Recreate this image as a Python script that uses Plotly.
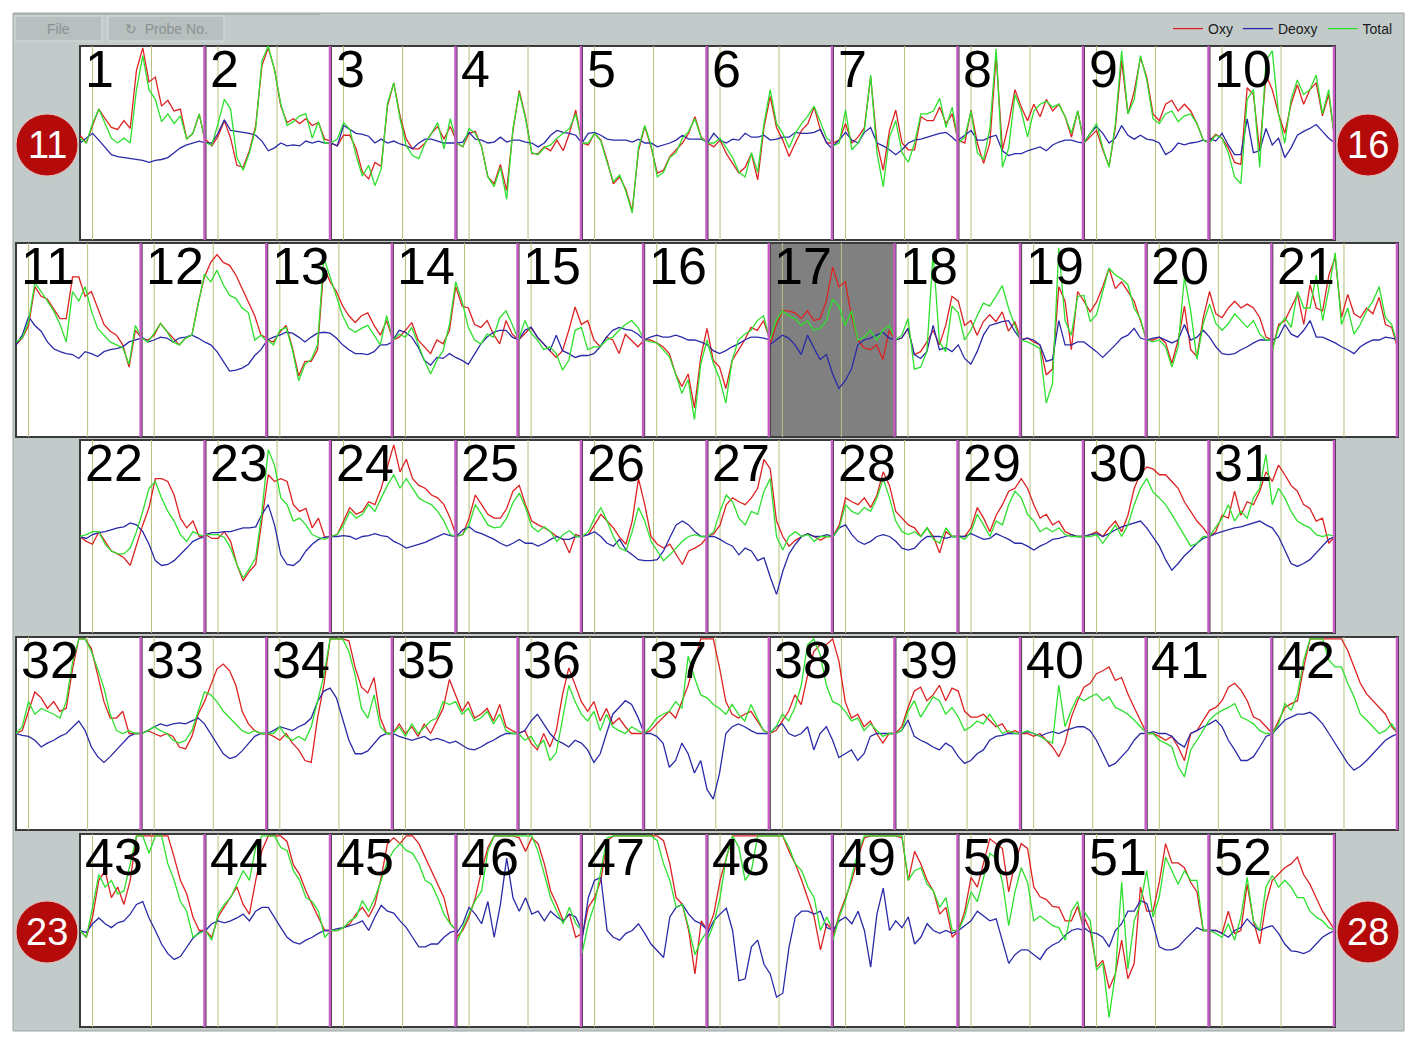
import plotly.graph_objects as go

# ---------------- data ----------------
time_s = [0, 1, 2, 3, 4, 5, 6, 7, 8, 9, 10, 11, 12, 13, 14, 15, 16, 17, 18, 19, 20]
task_on = 2.0
task_off = 11.4
series_names = ["Oxy", "Deoxy", "Total"]
circle_labels = ["11", "16", "23", "28"]

oxy_1 = [0.08, 0.0, 0.18, 0.35, 0.25, 0.16, 0.14, 0.23, 0.15, 0.75, 0.98, 0.63, 0.68, 0.38, 0.44, 0.33, 0.35, 0.04, 0.1, 0.3, 0.0]
deoxy_1 = [0.0, 0.05, 0.1, 0.03, -0.05, -0.12, -0.14, -0.15, -0.16, -0.17, -0.18, -0.2, -0.18, -0.17, -0.15, -0.1, -0.05, -0.02, 0.0, 0.02, 0.0]
total_1 = [0.05, 0.0, 0.2, 0.35, 0.2, 0.05, 0.0, 0.05, 0.0, 0.55, 0.9, 0.55, 0.45, 0.22, 0.3, 0.2, 0.28, 0.04, 0.1, 0.3, 0.0]
oxy_2 = [0.04, -0.03, 0.07, 0.23, 0.05, -0.23, -0.25, -0.08, 0.18, 0.8, 0.98, 0.76, 0.38, 0.21, 0.25, 0.2, 0.25, 0.18, 0.21, 0.04, 0.02]
deoxy_2 = [0.0, 0.0, 0.1, 0.24, 0.13, 0.12, 0.11, 0.1, 0.08, 0.02, -0.08, -0.05, 0.0, -0.03, -0.02, -0.03, 0.02, 0.0, 0.02, 0.0, 0.0]
total_2 = [0.0, -0.02, 0.2, 0.45, 0.35, -0.15, -0.28, -0.1, 0.15, 0.85, 1.0, 0.75, 0.4, 0.18, 0.22, 0.28, 0.3, 0.05, 0.22, 0.0, 0.0]
oxy_3 = [0.0, -0.03, 0.08, 0.08, -0.06, -0.3, -0.37, -0.2, -0.24, 0.38, 0.62, 0.28, 0.04, -0.06, -0.06, 0.0, 0.1, 0.17, 0.04, 0.17, 0.02]
deoxy_3 = [0.0, -0.03, 0.18, 0.14, 0.1, 0.09, 0.07, 0.0, 0.04, 0.0, 0.02, -0.01, -0.03, -0.06, 0.0, 0.04, 0.04, 0.02, 0.0, 0.0, 0.0]
total_3 = [0.0, 0.04, 0.21, 0.14, -0.13, -0.34, -0.23, -0.44, -0.27, 0.41, 0.62, 0.25, -0.03, -0.13, -0.16, 0.0, 0.1, 0.21, -0.06, 0.25, 0.02]
oxy_4 = [0.0, -0.04, 0.1, 0.12, -0.04, -0.35, -0.42, -0.22, -0.49, 0.13, 0.54, 0.27, -0.11, -0.11, -0.04, -0.08, 0.03, -0.08, 0.1, 0.34, 0.0]
deoxy_4 = [0.0, 0.01, 0.11, 0.04, 0.03, 0.0, 0.01, 0.06, 0.01, 0.03, 0.03, 0.01, 0.0, -0.04, 0.0, 0.08, 0.13, 0.11, 0.1, 0.08, 0.0]
total_4 = [0.0, -0.04, 0.15, 0.1, -0.04, -0.35, -0.45, -0.25, -0.58, 0.15, 0.52, 0.25, -0.1, -0.12, -0.05, -0.02, 0.05, 0.1, 0.15, 0.3, 0.0]
oxy_5 = [0.0, -0.02, 0.1, 0.03, -0.18, -0.42, -0.35, -0.48, -0.7, -0.08, 0.17, -0.04, -0.31, -0.28, -0.14, -0.07, 0.0, 0.1, 0.27, 0.06, 0.0]
deoxy_5 = [0.0, 0.1, 0.11, 0.08, 0.04, 0.03, 0.03, 0.03, 0.01, 0.04, 0.0, 0.0, -0.04, -0.02, 0.0, 0.03, 0.08, 0.04, 0.04, 0.04, 0.01]
total_5 = [0.0, 0.0, 0.1, 0.02, -0.2, -0.4, -0.33, -0.5, -0.72, -0.05, 0.18, -0.02, -0.35, -0.3, -0.15, -0.1, 0.05, 0.12, 0.25, 0.05, 0.0]
oxy_6 = [0.0, -0.04, 0.03, -0.11, -0.21, -0.31, -0.25, -0.11, -0.38, 0.16, 0.48, 0.16, 0.03, -0.14, 0.0, 0.13, 0.2, 0.37, 0.13, 0.0, 0.0]
deoxy_6 = [0.0, 0.1, 0.03, 0.0, 0.04, 0.03, 0.1, 0.06, 0.06, 0.08, 0.03, 0.04, 0.06, 0.06, 0.11, 0.1, 0.1, 0.11, 0.14, 0.0, -0.07]
total_6 = [0.0, 0.0, 0.05, -0.05, -0.15, -0.3, -0.35, -0.1, -0.3, 0.2, 0.55, 0.2, 0.1, -0.05, 0.1, 0.2, 0.28, 0.38, 0.22, 0.05, 0.0]
oxy_7 = [0.0, 0.03, 0.2, 0.0, 0.06, 0.16, 0.68, 0.0, -0.28, 0.13, 0.34, 0.0, -0.07, -0.07, 0.27, 0.23, 0.23, 0.37, 0.2, 0.3, 0.0]
deoxy_7 = [-0.03, 0.03, 0.11, 0.03, 0.0, 0.11, 0.16, 0.0, -0.03, -0.07, -0.12, -0.07, 0.0, 0.03, 0.04, 0.06, 0.08, 0.1, 0.11, 0.06, 0.0]
total_7 = [-0.03, 0.0, 0.34, -0.07, 0.0, 0.13, 0.7, -0.1, -0.45, 0.06, 0.23, -0.1, -0.2, 0.0, 0.3, 0.3, 0.33, 0.46, 0.16, 0.37, 0.0]
oxy_8 = [0.03, 0.0, 0.34, 0.0, -0.21, 0.0, 0.9, -0.07, 0.2, 0.55, 0.37, 0.23, 0.4, 0.27, 0.45, 0.33, 0.4, 0.27, 0.06, 0.33, 0.0]
deoxy_8 = [0.03, 0.08, 0.13, 0.03, 0.03, 0.06, 0.08, -0.08, -0.13, -0.11, -0.11, -0.08, -0.06, -0.04, -0.08, -0.02, 0.01, 0.03, 0.03, 0.01, 0.0]
total_8 = [0.0, 0.06, 0.33, -0.1, -0.17, 0.15, 0.97, -0.25, -0.05, 0.5, 0.33, 0.06, 0.33, 0.4, 0.43, 0.37, 0.4, 0.27, 0.1, 0.33, 0.0]
oxy_9 = [0.0, 0.06, 0.13, -0.07, -0.24, 0.16, 0.85, 0.3, 0.53, 0.88, 0.68, 0.3, 0.23, 0.4, 0.44, 0.33, 0.4, 0.33, 0.2, 0.03, 0.0]
deoxy_9 = [0.0, 0.1, 0.17, 0.1, 0.0, 0.05, 0.18, 0.08, 0.04, 0.08, 0.04, 0.03, 0.0, -0.12, -0.08, 0.0, -0.02, 0.0, 0.01, 0.03, 0.01]
total_9 = [0.0, 0.1, 0.2, -0.05, -0.25, 0.2, 0.95, 0.3, 0.45, 0.9, 0.65, 0.25, 0.2, 0.3, 0.33, 0.22, 0.28, 0.3, 0.2, 0.03, 0.0]
oxy_10 = [0.02, 0.09, 0.05, -0.05, -0.2, -0.22, 0.57, 0.5, -0.08, 0.7, 0.55, 0.3, 0.1, 0.4, 0.6, 0.4, 0.55, 0.62, 0.28, 0.5, 0.02]
deoxy_10 = [0.05, 0.02, 0.1, -0.02, -0.12, -0.12, 0.25, -0.1, -0.08, 0.15, -0.02, 0.05, -0.15, -0.05, 0.08, 0.12, 0.15, 0.19, 0.12, 0.05, 0.0]
total_10 = [0.0, 0.08, 0.05, -0.1, -0.35, -0.42, 0.45, 0.55, -0.25, 0.85, 0.95, 0.3, 0.0, 0.45, 0.65, 0.5, 0.55, 0.7, 0.3, 0.55, 0.0]
oxy_11 = [-0.05, 0.02, 0.15, 0.55, 0.45, 0.42, 0.32, 0.22, 0.22, 0.65, 0.65, 0.45, 0.5, 0.32, 0.16, 0.09, 0.05, -0.05, -0.28, 0.1, 0.02]
deoxy_11 = [-0.05, 0.05, 0.24, 0.15, 0.09, -0.02, -0.09, -0.12, -0.14, -0.15, -0.19, -0.12, -0.14, -0.17, -0.12, -0.1, -0.09, -0.07, -0.02, 0.0, 0.02]
total_11 = [-0.02, 0.02, 0.19, 0.59, 0.5, 0.4, 0.3, 0.16, -0.02, 0.5, 0.4, 0.55, 0.3, 0.12, 0.05, -0.02, -0.05, -0.08, -0.25, 0.15, 0.02]
oxy_12 = [0.02, 0.0, 0.05, 0.17, 0.09, 0.02, -0.05, 0.02, 0.05, 0.38, 0.65, 0.8, 0.88, 0.8, 0.77, 0.67, 0.53, 0.38, 0.25, 0.05, 0.02]
deoxy_12 = [0.03, -0.02, 0.0, 0.03, 0.02, -0.02, 0.02, 0.03, 0.05, 0.02, -0.02, -0.05, -0.12, -0.22, -0.32, -0.31, -0.29, -0.25, -0.16, -0.1, 0.0]
total_12 = [0.02, -0.02, 0.07, 0.17, 0.09, -0.02, -0.05, 0.02, 0.05, 0.38, 0.68, 0.6, 0.72, 0.57, 0.46, 0.43, 0.33, 0.28, 0.0, 0.05, -0.02]
oxy_13 = [0.0, -0.02, 0.08, 0.15, -0.08, -0.37, -0.22, -0.22, -0.1, 0.75, 0.6, 0.5, 0.35, 0.25, 0.18, 0.25, 0.28, 0.15, 0.05, 0.2, 0.0]
deoxy_13 = [0.0, 0.03, 0.05, 0.08, 0.07, 0.03, -0.02, 0.03, 0.07, 0.08, 0.07, 0.02, -0.05, -0.1, -0.14, -0.14, -0.15, -0.12, -0.05, -0.05, -0.02]
total_13 = [0.0, -0.05, 0.1, 0.13, -0.1, -0.42, -0.25, -0.2, -0.05, 0.85, 0.65, 0.45, 0.25, 0.12, 0.08, 0.12, 0.15, 0.05, -0.05, 0.25, 0.0]
oxy_14 = [0.0, 0.03, 0.1, 0.18, 0.0, -0.07, -0.14, 0.0, -0.04, 0.1, 0.55, 0.35, 0.33, 0.16, 0.13, 0.2, 0.06, -0.04, 0.2, 0.06, 0.0]
deoxy_14 = [0.0, 0.1, 0.08, 0.03, -0.07, -0.21, -0.26, -0.18, -0.19, -0.14, -0.18, -0.21, -0.25, -0.14, -0.04, 0.03, 0.08, 0.1, 0.1, 0.03, 0.0]
total_14 = [0.0, 0.06, 0.03, 0.13, -0.04, -0.21, -0.35, -0.21, -0.11, 0.16, 0.6, 0.4, 0.13, 0.0, -0.04, 0.06, 0.03, 0.23, 0.3, 0.16, 0.0]
oxy_15 = [0.0, 0.07, 0.13, 0.03, -0.04, -0.11, -0.18, -0.11, 0.1, 0.34, 0.16, 0.2, 0.0, -0.07, 0.03, 0.0, -0.14, 0.06, 0.0, -0.07, 0.0]
deoxy_15 = [0.0, 0.1, 0.13, 0.03, -0.04, -0.11, 0.05, -0.11, -0.14, -0.18, -0.16, -0.16, -0.14, -0.07, 0.03, 0.1, 0.13, 0.11, 0.1, 0.06, 0.0]
total_15 = [0.0, 0.2, 0.07, 0.0, -0.1, -0.07, -0.14, -0.31, -0.21, 0.1, 0.13, -0.1, -0.07, -0.07, 0.0, 0.03, 0.1, 0.16, 0.2, 0.13, 0.0]
oxy_16 = [0.0, 0.0, -0.03, -0.07, -0.14, -0.35, -0.48, -0.35, -0.7, -0.18, 0.12, -0.21, -0.28, -0.5, -0.21, -0.11, 0.0, 0.13, 0.1, 0.2, 0.0]
deoxy_16 = [0.0, 0.03, 0.05, 0.03, 0.03, 0.05, 0.03, 0.0, 0.0, -0.02, -0.05, -0.11, -0.14, -0.11, -0.07, -0.04, 0.0, 0.03, 0.03, 0.02, 0.0]
total_16 = [0.0, -0.02, -0.03, -0.1, -0.17, -0.35, -0.55, -0.41, -0.82, -0.25, 0.0, -0.24, -0.4, -0.65, -0.21, 0.0, 0.06, 0.1, 0.2, 0.25, 0.0]
oxy_17 = [-0.05, 0.15, 0.3, 0.3, 0.28, 0.22, 0.3, 0.2, 0.22, 0.4, 0.75, 0.55, 0.6, 0.25, 0.0, -0.08, -0.1, -0.05, -0.2, 0.1, 0.0]
deoxy_17 = [-0.05, 0.0, 0.05, 0.02, -0.05, -0.15, 0.05, -0.08, -0.2, -0.15, -0.35, -0.5, -0.42, -0.3, -0.05, 0.0, 0.02, 0.05, 0.08, 0.02, 0.0]
total_17 = [0.0, 0.2, 0.3, 0.25, 0.22, 0.15, 0.2, 0.1, 0.12, 0.2, 0.42, 0.35, 0.15, 0.3, 0.0, 0.03, 0.1, 0.0, 0.1, 0.15, 0.0]
oxy_18 = [0.0, 0.02, 0.12, -0.15, -0.12, -0.02, 0.1, -0.05, 0.15, 0.45, 0.4, 0.15, 0.2, 0.05, 0.19, 0.26, 0.19, 0.29, 0.09, 0.19, 0.0]
deoxy_18 = [0.0, 0.02, 0.12, -0.15, -0.19, -0.12, 0.15, -0.1, -0.08, -0.12, -0.05, -0.19, -0.25, -0.12, 0.05, 0.15, 0.17, 0.19, 0.2, 0.09, 0.0]
total_18 = [0.0, 0.05, 0.22, -0.3, -0.28, -0.12, 0.9, -0.02, -0.12, 0.35, 0.28, 0.0, 0.1, 0.25, 0.38, 0.35, 0.45, 0.56, 0.33, 0.15, -0.02]
oxy_19 = [0.0, 0.02, -0.02, -0.05, -0.36, -0.3, 0.55, 0.4, -0.1, 0.5, 0.4, 0.29, 0.39, 0.55, 0.74, 0.53, 0.6, 0.5, 0.4, 0.2, 0.0]
deoxy_19 = [0.0, 0.02, 0.0, -0.05, -0.22, -0.2, 0.2, -0.05, -0.05, -0.02, -0.02, -0.07, -0.12, -0.18, -0.12, -0.05, 0.02, 0.05, 0.12, 0.02, 0.0]
total_19 = [0.0, -0.02, -0.05, -0.09, -0.65, -0.45, 0.95, 0.2, 0.05, 0.45, 0.46, 0.19, 0.26, 0.5, 0.74, 0.67, 0.63, 0.57, 0.33, 0.22, -0.02]
oxy_20 = [0.0, 0.0, 0.03, -0.03, -0.24, 0.0, 0.35, -0.1, -0.17, 0.23, 0.5, 0.27, 0.23, 0.33, 0.4, 0.33, 0.37, 0.33, 0.23, 0.03, 0.0]
deoxy_20 = [0.0, 0.02, 0.03, 0.0, -0.03, 0.0, 0.16, 0.0, 0.03, 0.1, 0.03, -0.07, -0.14, -0.15, -0.14, -0.1, -0.07, -0.03, 0.0, 0.0, 0.0]
total_20 = [0.0, -0.02, 0.0, -0.07, -0.28, -0.07, 0.65, 0.3, -0.2, 0.17, 0.37, 0.17, 0.1, 0.17, 0.27, 0.2, 0.13, 0.2, 0.06, 0.0, 0.0]
oxy_21 = [-0.1, 0.16, 0.2, 0.33, 0.47, 0.16, 0.57, 0.33, 0.3, 0.67, 0.85, 0.23, 0.47, 0.27, 0.23, 0.33, 0.27, 0.44, 0.16, 0.13, -0.1]
deoxy_21 = [0.0, 0.03, 0.16, 0.06, 0.03, 0.1, 0.2, 0.03, 0.03, 0.0, -0.03, -0.07, -0.1, -0.14, -0.07, -0.03, 0.0, 0.0, 0.03, 0.02, 0.0]
total_21 = [-0.1, 0.13, 0.23, 0.13, 0.5, 0.33, 0.33, 0.67, 0.2, 0.53, 0.9, 0.16, 0.33, 0.06, 0.16, 0.3, 0.4, 0.55, 0.23, 0.16, -0.07]
oxy_22 = [0.0, -0.05, -0.08, 0.05, -0.05, -0.15, -0.18, -0.22, -0.3, -0.08, 0.12, 0.3, 0.6, 0.6, 0.57, 0.43, 0.19, 0.09, 0.16, 0.0, 0.0]
deoxy_22 = [0.0, -0.02, 0.02, 0.04, 0.05, 0.07, 0.09, 0.1, 0.14, 0.12, 0.05, -0.08, -0.25, -0.3, -0.29, -0.25, -0.19, -0.12, -0.05, -0.02, 0.0]
total_22 = [0.0, 0.02, 0.05, 0.05, -0.08, -0.15, -0.18, -0.18, -0.12, 0.05, 0.26, 0.5, 0.57, 0.4, 0.26, 0.16, 0.02, -0.05, 0.05, 0.02, 0.0]
oxy_23 = [0.02, -0.02, -0.02, 0.05, -0.05, -0.29, -0.46, -0.36, -0.29, 0.16, 0.64, 0.57, 0.6, 0.57, 0.33, 0.26, 0.29, 0.09, 0.19, -0.01, 0.0]
deoxy_23 = [0.02, 0.04, 0.04, 0.05, 0.05, 0.07, 0.09, 0.09, 0.1, 0.23, 0.33, 0.12, -0.19, -0.29, -0.3, -0.25, -0.15, -0.08, -0.03, -0.01, 0.0]
total_23 = [0.02, 0.02, 0.02, -0.01, -0.12, -0.29, -0.43, -0.33, -0.22, 0.26, 0.9, 0.74, 0.4, 0.33, 0.16, 0.19, 0.12, 0.02, -0.01, -0.03, 0.0]
oxy_24 = [0.0, 0.02, 0.16, 0.3, 0.23, 0.26, 0.36, 0.33, 0.5, 0.74, 0.95, 0.67, 0.8, 0.6, 0.53, 0.5, 0.43, 0.4, 0.33, 0.19, 0.0]
deoxy_24 = [0.0, 0.0, 0.01, 0.0, -0.03, 0.0, 0.01, 0.03, 0.01, 0.0, -0.05, -0.08, -0.12, -0.1, -0.08, -0.06, -0.03, 0.0, 0.03, 0.01, 0.0]
total_24 = [0.0, 0.02, 0.12, 0.26, 0.19, 0.23, 0.33, 0.26, 0.4, 0.53, 0.64, 0.5, 0.6, 0.5, 0.4, 0.36, 0.33, 0.26, 0.16, 0.02, 0.0]
oxy_25 = [0.0, 0.02, 0.19, 0.43, 0.33, 0.23, 0.19, 0.19, 0.29, 0.47, 0.53, 0.33, 0.16, 0.12, 0.09, 0.05, 0.0, -0.03, -0.17, 0.02, 0.0]
deoxy_25 = [0.0, 0.07, 0.1, 0.05, 0.03, 0.0, -0.03, -0.07, -0.1, -0.07, -0.03, -0.07, -0.07, -0.1, -0.07, -0.03, 0.0, -0.03, -0.03, 0.0, 0.0]
total_25 = [0.0, 0.02, 0.12, 0.33, 0.23, 0.12, 0.09, 0.1, 0.19, 0.35, 0.45, 0.3, 0.1, 0.05, 0.1, 0.05, -0.05, 0.02, 0.06, 0.0, 0.0]
oxy_26 = [0.0, 0.02, 0.12, 0.23, 0.16, 0.09, -0.01, -0.08, 0.16, 0.6, 0.33, 0.0, -0.08, -0.12, -0.08, -0.19, -0.29, -0.15, -0.12, -0.08, 0.0]
deoxy_26 = [0.0, 0.02, 0.05, 0.0, -0.07, -0.1, -0.03, -0.14, -0.19, -0.24, -0.25, -0.25, -0.24, -0.15, -0.01, 0.12, 0.16, 0.12, 0.05, 0.0, 0.0]
total_26 = [0.0, 0.05, 0.19, 0.3, 0.16, 0.0, -0.12, -0.15, 0.05, 0.3, 0.16, -0.05, -0.15, -0.25, -0.19, -0.12, -0.05, 0.0, 0.02, 0.0, 0.0]
oxy_27 = [0.0, 0.03, 0.12, 0.33, 0.4, 0.36, 0.33, 0.4, 0.5, 0.8, 0.7, 0.16, 0.0, -0.1, -0.04, 0.0, 0.03, 0.0, -0.04, 0.0, 0.0]
deoxy_27 = [0.0, 0.0, -0.03, -0.07, -0.1, -0.19, -0.12, -0.15, -0.25, -0.22, -0.42, -0.6, -0.36, -0.18, -0.08, 0.0, 0.03, 0.0, 0.0, 0.02, 0.0]
total_27 = [0.0, 0.05, 0.26, 0.43, 0.36, 0.19, 0.12, 0.26, 0.23, 0.47, 0.6, 0.0, -0.14, 0.0, 0.05, 0.0, 0.02, -0.05, 0.0, 0.0, 0.0]
oxy_28 = [0.0, 0.12, 0.4, 0.36, 0.33, 0.4, 0.3, 0.43, 0.67, 0.53, 0.26, 0.19, 0.12, 0.09, 0.0, 0.09, 0.0, -0.17, 0.05, 0.0, 0.0]
deoxy_28 = [0.0, 0.09, 0.12, 0.02, -0.05, -0.08, -0.05, 0.0, 0.02, 0.0, -0.05, -0.12, -0.14, -0.12, -0.05, 0.0, 0.0, 0.0, -0.02, 0.0, 0.0]
total_28 = [0.0, 0.09, 0.33, 0.26, 0.23, 0.3, 0.26, 0.4, 0.6, 0.4, 0.16, 0.05, 0.02, 0.05, 0.0, 0.09, -0.03, -0.07, 0.09, 0.0, 0.0]
oxy_29 = [0.0, 0.0, 0.09, 0.3, 0.19, 0.05, 0.22, 0.33, 0.47, 0.5, 0.6, 0.5, 0.33, 0.19, 0.23, 0.12, 0.16, 0.05, 0.02, 0.0, 0.0]
deoxy_29 = [0.0, 0.0, 0.03, 0.0, -0.03, -0.02, 0.03, 0.0, -0.03, -0.07, -0.07, -0.1, -0.14, -0.1, -0.07, -0.03, -0.02, 0.0, 0.02, 0.0, 0.0]
total_29 = [0.0, -0.03, 0.05, 0.23, 0.12, 0.0, 0.16, 0.12, 0.33, 0.47, 0.4, 0.23, 0.16, 0.05, 0.09, 0.05, 0.09, 0.02, 0.0, 0.0, 0.0]
oxy_30 = [0.0, 0.02, 0.05, 0.0, 0.09, 0.16, 0.05, 0.22, 0.5, 0.65, 0.72, 0.7, 0.64, 0.64, 0.57, 0.5, 0.36, 0.26, 0.16, 0.09, 0.0]
deoxy_30 = [0.0, 0.02, 0.03, 0.0, 0.03, 0.07, 0.1, 0.12, 0.14, 0.16, 0.09, 0.0, -0.1, -0.24, -0.35, -0.28, -0.2, -0.14, -0.07, -0.02, 0.0]
total_30 = [0.0, 0.0, 0.02, -0.07, 0.02, 0.12, 0.0, 0.12, 0.33, 0.5, 0.6, 0.46, 0.4, 0.33, 0.23, 0.12, 0.0, -0.1, -0.07, 0.0, 0.0]
oxy_31 = [0.0, 0.05, 0.22, 0.19, 0.47, 0.22, 0.36, 0.33, 0.47, 0.67, 0.57, 0.74, 0.64, 0.53, 0.47, 0.33, 0.29, 0.16, 0.19, -0.07, 0.0]
deoxy_31 = [0.0, 0.03, 0.05, 0.07, 0.09, 0.1, 0.12, 0.14, 0.16, 0.12, 0.09, 0.0, -0.14, -0.28, -0.31, -0.28, -0.24, -0.17, -0.1, -0.03, 0.0]
total_31 = [0.0, 0.09, 0.19, 0.33, 0.16, 0.26, 0.19, 0.4, 0.5, 0.85, 0.33, 0.5, 0.4, 0.26, 0.16, 0.12, 0.09, 0.02, 0.0, 0.02, 0.0]
oxy_32 = [0.0, 0.03, 0.23, 0.43, 0.37, 0.26, 0.33, 0.23, 0.26, 0.67, 0.98, 0.98, 0.88, 0.6, 0.33, 0.16, 0.16, 0.23, 0.0, 0.0, 0.0]
deoxy_32 = [0.0, -0.02, -0.03, -0.07, -0.14, -0.1, -0.07, -0.03, 0.0, 0.07, 0.13, 0.03, -0.14, -0.24, -0.3, -0.24, -0.17, -0.1, -0.03, 0.0, 0.0]
total_32 = [0.0, 0.07, 0.33, 0.2, 0.26, 0.23, 0.2, 0.16, 0.33, 0.74, 0.98, 0.98, 0.85, 0.67, 0.47, 0.2, 0.03, 0.0, 0.03, 0.0, 0.0]
oxy_33 = [0.0, 0.03, 0.0, -0.03, 0.0, -0.03, -0.14, -0.16, -0.03, 0.2, 0.33, 0.5, 0.67, 0.72, 0.65, 0.5, 0.23, 0.1, 0.03, 0.0, 0.0]
deoxy_33 = [0.0, 0.03, 0.07, 0.1, 0.08, 0.1, 0.11, 0.1, 0.13, 0.16, 0.1, 0.0, -0.1, -0.21, -0.26, -0.24, -0.18, -0.1, -0.03, 0.0, 0.0]
total_33 = [0.0, 0.03, 0.07, 0.03, 0.0, -0.07, -0.1, -0.07, 0.03, 0.23, 0.43, 0.4, 0.33, 0.23, 0.16, 0.1, 0.03, 0.0, 0.03, 0.0, 0.0]
oxy_34 = [0.0, -0.03, -0.07, 0.0, -0.1, -0.17, -0.28, -0.3, 0.16, 0.5, 0.98, 0.98, 0.98, 0.96, 0.68, 0.48, 0.42, 0.58, 0.16, 0.0, 0.0]
deoxy_34 = [0.0, 0.03, 0.07, 0.05, 0.03, 0.07, 0.1, 0.16, 0.33, 0.44, 0.47, 0.37, 0.16, -0.07, -0.21, -0.21, -0.18, -0.1, -0.03, 0.0, 0.0]
total_34 = [0.0, 0.0, 0.07, -0.03, -0.07, -0.03, -0.07, 0.07, 0.33, 0.6, 0.98, 0.98, 0.98, 0.85, 0.6, 0.26, 0.16, 0.4, 0.07, 0.0, 0.0]
oxy_35 = [0.0, 0.1, 0.0, 0.07, -0.03, 0.1, 0.0, 0.13, 0.26, 0.56, 0.4, 0.23, 0.33, 0.16, 0.2, 0.26, 0.13, 0.3, 0.07, 0.03, 0.0]
deoxy_35 = [0.0, -0.03, -0.05, -0.07, -0.05, -0.03, -0.07, -0.05, -0.07, -0.1, -0.08, -0.12, -0.16, -0.17, -0.14, -0.1, -0.07, -0.03, 0.0, 0.0, 0.0]
total_35 = [0.0, 0.07, -0.03, 0.1, 0.0, 0.07, 0.13, 0.16, 0.33, 0.3, 0.33, 0.2, 0.26, 0.13, 0.16, 0.23, 0.1, 0.2, 0.03, 0.0, 0.0]
oxy_36 = [0.0, 0.03, -0.1, -0.17, 0.0, -0.14, 0.03, 0.4, 0.68, 0.5, 0.33, 0.23, 0.33, 0.13, 0.26, 0.1, 0.16, 0.07, 0.0, 0.0, 0.0]
deoxy_36 = [0.0, 0.03, 0.13, 0.2, 0.1, 0.0, -0.07, -0.1, -0.14, -0.07, -0.1, -0.17, -0.3, -0.21, 0.0, 0.2, 0.27, 0.34, 0.3, 0.17, 0.0]
total_36 = [0.0, -0.07, -0.03, -0.14, -0.07, -0.28, -0.2, 0.16, 0.5, 0.33, 0.2, 0.13, 0.23, 0.03, 0.2, 0.07, 0.03, 0.0, 0.07, 0.03, 0.0]
oxy_37 = [0.0, 0.03, 0.1, 0.16, 0.23, 0.16, 0.33, 0.5, 0.75, 0.98, 0.98, 0.98, 0.68, 0.33, 0.2, 0.16, 0.2, 0.23, 0.13, 0.03, 0.0]
deoxy_37 = [0.0, 0.0, -0.03, -0.1, -0.35, -0.28, -0.1, -0.21, -0.41, -0.28, -0.58, -0.68, -0.41, 0.0, 0.07, 0.1, 0.07, 0.03, 0.0, 0.0, 0.0]
total_37 = [0.0, 0.07, 0.16, 0.2, 0.23, 0.33, 0.26, 0.8, 0.58, 0.4, 0.37, 0.3, 0.26, 0.2, 0.3, 0.2, 0.13, 0.3, 0.16, 0.03, 0.0]
oxy_38 = [0.0, 0.03, 0.13, 0.23, 0.4, 0.3, 0.6, 0.85, 0.92, 0.92, 0.98, 0.75, 0.33, 0.16, 0.2, 0.07, 0.13, 0.0, -0.1, 0.0, 0.0]
deoxy_38 = [0.0, 0.07, 0.1, 0.0, -0.03, 0.0, 0.07, -0.17, 0.0, 0.07, -0.07, -0.25, -0.21, -0.17, -0.28, -0.21, -0.03, 0.0, 0.0, 0.0, 0.0]
total_38 = [0.0, 0.07, 0.2, 0.13, 0.27, 0.5, 0.92, 0.98, 0.82, 0.5, 0.33, 0.3, 0.23, 0.13, 0.16, 0.03, 0.1, 0.03, -0.03, 0.0, 0.0]
oxy_39 = [0.0, 0.07, 0.27, 0.44, 0.48, 0.34, 0.4, 0.5, 0.34, 0.47, 0.44, 0.23, 0.17, 0.17, 0.2, 0.13, 0.07, 0.1, 0.0, 0.03, 0.0]
deoxy_39 = [0.0, 0.03, 0.14, -0.03, -0.07, -0.1, -0.14, -0.17, -0.1, -0.14, -0.24, -0.31, -0.28, -0.21, -0.17, -0.07, -0.03, -0.02, 0.0, 0.0, 0.0]
total_39 = [0.0, 0.03, 0.23, 0.34, 0.17, 0.27, 0.38, 0.34, 0.2, 0.27, 0.17, 0.03, 0.07, 0.13, 0.1, 0.2, 0.1, 0.0, 0.03, 0.0, 0.0]
oxy_40 = [0.0, 0.0, -0.03, 0.0, -0.07, -0.14, -0.24, -0.1, 0.17, 0.34, 0.48, 0.52, 0.62, 0.65, 0.69, 0.55, 0.58, 0.41, 0.27, 0.14, 0.0]
deoxy_40 = [0.0, 0.02, 0.0, -0.03, 0.0, 0.02, 0.0, 0.03, 0.05, 0.07, 0.07, 0.03, -0.07, -0.21, -0.34, -0.31, -0.24, -0.17, -0.07, 0.0, 0.0]
total_40 = [0.0, 0.03, 0.0, -0.03, -0.07, -0.1, 0.5, 0.07, 0.24, 0.38, 0.34, 0.38, 0.41, 0.34, 0.38, 0.27, 0.24, 0.2, 0.14, 0.07, 0.0]
oxy_41 = [0.0, 0.0, -0.03, -0.07, -0.03, -0.14, -0.28, 0.0, 0.03, 0.14, 0.24, 0.27, 0.34, 0.48, 0.52, 0.45, 0.34, 0.17, 0.14, 0.07, 0.0]
deoxy_41 = [0.0, 0.02, 0.0, 0.0, -0.03, -0.1, -0.14, 0.0, 0.03, 0.07, 0.1, 0.14, 0.07, -0.07, -0.17, -0.28, -0.28, -0.24, -0.14, -0.03, 0.0]
total_41 = [0.0, 0.0, -0.07, -0.1, -0.14, -0.34, -0.45, -0.17, -0.07, 0.03, 0.14, 0.2, 0.24, 0.27, 0.31, 0.17, 0.14, 0.1, 0.03, 0.0, 0.0]
oxy_42 = [0.0, 0.14, 0.27, 0.31, 0.34, 0.69, 0.98, 0.98, 0.98, 0.98, 0.98, 0.98, 0.86, 0.69, 0.52, 0.41, 0.34, 0.27, 0.2, 0.07, 0.0]
deoxy_42 = [0.0, 0.07, 0.14, 0.17, 0.2, 0.2, 0.22, 0.17, 0.1, 0.0, -0.1, -0.2, -0.31, -0.38, -0.34, -0.28, -0.21, -0.14, -0.07, -0.03, 0.0]
total_42 = [0.0, 0.1, 0.31, 0.24, 0.41, 0.76, 0.98, 0.98, 0.98, 0.76, 0.69, 0.69, 0.52, 0.38, 0.2, 0.14, 0.07, 0.0, 0.03, 0.1, 0.0]
oxy_43 = [0.0, -0.07, 0.14, 0.52, 0.62, 0.34, 0.45, 0.27, 0.52, 0.98, 0.98, 0.98, 0.98, 0.98, 0.98, 0.76, 0.52, 0.38, 0.14, 0.0, 0.0]
deoxy_43 = [0.0, -0.02, 0.07, 0.13, 0.07, 0.03, 0.08, 0.1, 0.17, 0.27, 0.3, 0.13, 0.0, -0.14, -0.24, -0.3, -0.27, -0.18, -0.08, -0.02, 0.0]
total_43 = [0.0, -0.07, 0.24, 0.58, 0.45, 0.52, 0.38, 0.41, 0.69, 0.98, 0.98, 0.8, 0.98, 0.98, 0.69, 0.52, 0.3, 0.2, -0.07, -0.03, 0.0]
oxy_44 = [0.0, -0.07, 0.14, 0.24, 0.34, 0.45, 0.27, 0.17, 0.52, 0.83, 0.98, 0.98, 0.98, 0.92, 0.68, 0.58, 0.41, 0.27, 0.14, 0.0, 0.0]
deoxy_44 = [0.0, 0.07, 0.1, 0.08, 0.1, 0.13, 0.17, 0.1, 0.2, 0.24, 0.24, 0.13, 0.03, -0.07, -0.12, -0.14, -0.1, -0.07, -0.03, 0.0, 0.0]
total_44 = [0.0, -0.1, 0.17, 0.27, 0.34, 0.48, 0.62, 0.52, 0.86, 0.98, 0.98, 0.98, 0.86, 0.83, 0.62, 0.52, 0.34, 0.3, 0.2, -0.07, 0.0]
oxy_45 = [0.0, 0.0, 0.03, 0.07, 0.17, 0.24, 0.14, 0.27, 0.55, 0.9, 0.96, 0.9, 0.98, 0.98, 0.9, 0.76, 0.62, 0.48, 0.34, 0.07, 0.0]
deoxy_45 = [0.0, 0.02, 0.03, 0.05, 0.07, 0.1, 0.0, 0.14, 0.26, 0.2, 0.18, 0.1, 0.03, -0.07, -0.17, -0.17, -0.14, -0.14, -0.07, -0.02, 0.0]
total_45 = [0.0, 0.0, 0.03, 0.1, 0.14, 0.31, 0.2, 0.34, 0.52, 0.72, 0.83, 0.9, 0.83, 0.8, 0.69, 0.52, 0.48, 0.34, 0.17, 0.07, 0.0]
oxy_46 = [-0.07, 0.0, 0.14, 0.34, 0.62, 0.86, 0.98, 0.98, 0.98, 0.98, 0.96, 0.82, 0.96, 0.9, 0.69, 0.41, 0.27, 0.1, 0.17, -0.07, -0.03]
deoxy_46 = [-0.03, 0.07, 0.24, 0.17, 0.07, 0.3, -0.07, 0.27, 0.75, 0.34, 0.2, 0.34, 0.17, 0.2, 0.1, 0.2, 0.14, 0.1, 0.17, 0.14, 0.0]
total_46 = [-0.14, 0.03, 0.17, 0.31, 0.41, 0.82, 0.98, 0.98, 0.98, 0.98, 0.98, 0.98, 0.98, 0.82, 0.58, 0.34, 0.2, 0.07, 0.24, 0.07, 0.0]
oxy_47 = [-0.07, 0.24, 0.34, 0.52, 0.93, 0.98, 0.98, 0.98, 0.98, 0.98, 0.98, 0.98, 0.98, 0.93, 0.69, 0.34, 0.27, 0.0, -0.45, 0.1, 0.0]
deoxy_47 = [-0.1, 0.34, 0.52, 0.55, 0.0, -0.07, -0.1, -0.03, 0.0, 0.07, -0.03, -0.14, -0.21, -0.28, 0.14, 0.24, 0.27, 0.17, 0.1, 0.07, 0.0]
total_47 = [-0.24, 0.07, 0.27, 0.62, 0.96, 0.98, 0.98, 0.98, 0.98, 0.98, 0.98, 0.98, 0.93, 0.69, 0.52, 0.24, 0.27, 0.03, -0.25, -0.1, 0.0]
oxy_48 = [0.0, 0.17, 0.52, 0.76, 0.98, 0.98, 0.98, 0.98, 0.98, 0.98, 0.98, 0.98, 0.98, 0.82, 0.69, 0.52, 0.34, 0.14, -0.2, 0.07, 0.0]
deoxy_48 = [-0.03, 0.1, 0.17, 0.23, 0.0, -0.52, -0.5, -0.17, -0.1, -0.35, -0.45, -0.69, -0.65, -0.17, 0.14, 0.2, 0.2, 0.17, 0.2, 0.03, 0.0]
total_48 = [-0.1, 0.07, 0.34, 0.76, 0.98, 0.86, 0.52, 0.62, 0.98, 0.98, 0.98, 0.98, 0.98, 0.86, 0.69, 0.62, 0.45, 0.34, 0.0, 0.14, 0.0]
oxy_49 = [-0.07, 0.17, 0.34, 0.52, 0.76, 0.96, 0.98, 0.98, 0.98, 0.98, 0.98, 0.96, 0.52, 0.82, 0.69, 0.52, 0.41, 0.17, 0.24, -0.07, 0.0]
deoxy_49 = [0.0, 0.1, 0.14, 0.07, 0.2, 0.0, -0.38, 0.17, 0.44, 0.0, 0.1, 0.03, 0.14, -0.14, -0.07, 0.07, 0.0, -0.03, 0.0, -0.03, 0.0]
total_49 = [-0.1, 0.14, 0.31, 0.58, 0.82, 0.98, 0.98, 0.98, 0.98, 0.98, 0.98, 0.98, 0.52, 0.62, 0.65, 0.48, 0.41, 0.24, 0.34, 0.0, 0.0]
oxy_50 = [0.0, 0.2, 0.55, 0.45, 0.7, 0.95, 0.9, 0.85, 0.4, 0.7, 0.9, 0.85, 0.45, 0.35, 0.32, 0.25, 0.24, 0.1, 0.1, 0.25, 0.0]
deoxy_50 = [0.0, 0.05, 0.1, 0.2, 0.15, 0.1, 0.12, -0.1, -0.34, -0.25, -0.2, -0.2, -0.25, -0.3, -0.2, -0.15, -0.12, -0.05, 0.0, 0.02, 0.0]
total_50 = [0.0, 0.15, 0.4, 0.3, 0.55, 0.8, 0.75, 0.5, 0.05, 0.4, 0.65, 0.5, 0.1, 0.15, 0.1, 0.05, 0.03, -0.1, 0.2, 0.3, 0.0]
oxy_51 = [0.14, 0.0, -0.38, -0.31, -0.6, -0.45, -0.1, -0.5, -0.34, 0.45, 0.2, 0.2, 0.5, 0.9, 0.7, 0.7, 0.65, 0.5, 0.4, 0.0, 0.0]
deoxy_51 = [0.03, -0.02, -0.03, -0.07, -0.17, 0.0, 0.07, 0.2, 0.2, 0.31, 0.28, 0.07, -0.17, -0.2, -0.2, -0.17, -0.1, -0.03, 0.03, 0.0, 0.0]
total_51 = [0.2, 0.1, -0.41, -0.34, -0.9, -0.45, 0.5, -0.4, 0.1, 0.28, 0.62, 0.14, 0.35, 0.76, 0.62, 0.48, 0.62, 0.52, 0.52, 0.0, 0.0]
oxy_52 = [0.0, 0.0, -0.03, 0.2, -0.03, 0.0, 0.48, 0.1, -0.14, 0.28, 0.52, 0.58, 0.65, 0.69, 0.76, 0.58, 0.48, 0.34, 0.2, 0.1, 0.0]
deoxy_52 = [0.0, 0.0, -0.03, -0.07, 0.0, 0.03, 0.12, 0.05, 0.0, 0.03, 0.05, -0.03, -0.14, -0.21, -0.22, -0.24, -0.21, -0.14, -0.07, -0.03, 0.0]
total_52 = [0.0, -0.03, -0.07, 0.07, -0.1, 0.14, 0.55, 0.1, 0.0, 0.45, 0.57, 0.45, 0.52, 0.45, 0.34, 0.34, 0.2, 0.14, 0.1, 0.03, 0.0]

# ---------------- layout constants (pixels of the 1417 x 1042 page) ----------------
PAGE_OFFSET = 8          # the page body places the figure 8 px from the top-left corner
W, H = 1417 - PAGE_OFFSET, 1042 - PAGE_OFFSET
ROWS = [  # first channel, last channel, left, right, top, bottom (page pixels)
    (1, 10, 80, 1335, 46, 240),
    (11, 21, 16, 1398, 243, 437),
    (22, 31, 80, 1335, 440, 633),
    (32, 42, 16, 1398, 637, 830),
    (43, 52, 80, 1335, 834, 1027),
]
CIRCLES = [(47, 145), (1368, 145), (47, 932), (1368, 932)]
COLORS = {"Oxy": "#dc2222", "Deoxy": "#2a2aa8", "Total": "#2ee02e"}
FRAME = "#c2caca"
HIGHLIGHT_CH = 17
NUM_FONT = "Liberation Sans, Arial, sans-serif"


def px(x):
    return (x - PAGE_OFFSET) / W


def py(y):
    return 1 - (y - PAGE_OFFSET) / H


data = {}
for ch in range(1, 53):
    g = globals()
    data[ch] = {"Oxy": g[f"oxy_{ch}"], "Deoxy": g[f"deoxy_{ch}"], "Total": g[f"total_{ch}"]}

fig = go.Figure()
shapes = []
annotations = []
layout_axes = {}

# outer grey frame + top bar
shapes.append(dict(type="rect", xref="paper", yref="paper", x0=px(13), x1=px(1404), y0=py(1031), y1=py(13),
                   fillcolor=FRAME, line=dict(color="#9aa2a2", width=1), layer="below"))
shapes.append(dict(type="rect", xref="paper", yref="paper", x0=px(13), x1=px(320), y0=py(15), y1=py(13),
                   fillcolor="#a9b1b1", line=dict(width=0), layer="below"))
for (bx0, bx1, label) in [(15, 102, "File"), (108, 224, "\u21bb  Probe No.")]:
    shapes.append(dict(type="rect", xref="paper", yref="paper", x0=px(bx0), x1=px(bx1), y0=py(41), y1=py(16),
                       fillcolor="#b7bfbf", line=dict(color="#d8dede", width=1), layer="below"))
    annotations.append(dict(xref="paper", yref="paper", x=px((bx0 + bx1) / 2), y=py(29), text=label,
                            showarrow=False, font=dict(family=NUM_FONT, size=14, color="#8a9292"),
                            xanchor="center", yanchor="middle"))

for (c0, c1, left, right, top, bottom) in ROWS:
    n = c1 - c0 + 1
    pw = (right - left) / n
    for i, ch in enumerate(range(c0, c1 + 1)):
        l = left + i * pw
        r = l + pw
        sfx = "" if ch == 1 else str(ch)
        layout_axes[f"xaxis{sfx}"] = dict(domain=[px(l), px(r)], range=[time_s[0], time_s[-1]], visible=False,
                                          fixedrange=True, anchor=f"y{sfx}")
        layout_axes[f"yaxis{sfx}"] = dict(domain=[py(bottom), py(top)], range=[-1, 1], visible=False,
                                          fixedrange=True, anchor=f"x{sfx}")
        xd, yd = f"x{sfx} domain", f"y{sfx} domain"
        bg = "#808080" if ch == HIGHLIGHT_CH else "white"
        shapes.append(dict(type="rect", xref=xd, yref=yd, x0=0, x1=1, y0=0, y1=1, fillcolor=bg,
                           line=dict(color="#3a3a3a", width=2), layer="below"))
        for t in (task_on, task_off):
            shapes.append(dict(type="line", xref=f"x{sfx}", yref=yd, x0=t, x1=t, y0=0, y1=1,
                               line=dict(color="#b8c07a", width=1), layer="below"))
        shapes.append(dict(type="line", xref=xd, yref=yd, x0=0.992, x1=0.992, y0=0, y1=1,
                           line=dict(color="#c45cc4", width=2.5), layer="above"))
        for name in series_names:
            fig.add_trace(go.Scatter(x=time_s, y=data[ch][name], xaxis=f"x{sfx}", yaxis=f"y{sfx}",
                                     mode="lines", name=name, legendgroup=name, showlegend=(ch == 1),
                                     line=dict(color=COLORS[name], width=1.3), hoverinfo="skip"))
        annotations.append(dict(xref=xd, yref=yd, x=0.02, y=1.04, text=str(ch), showarrow=False,
                                xanchor="left", yanchor="top",
                                font=dict(family=NUM_FONT, size=52, color="black")))

# red circular markers
for (cx, cy), lab in zip(CIRCLES, circle_labels):
    shapes.append(dict(type="circle", xref="paper", yref="paper", x0=px(cx - 31), x1=px(cx + 31),
                       y0=py(cy + 31), y1=py(cy - 31), fillcolor="#b40a0a",
                       line=dict(color="#e8c0c0", width=1), layer="above"))
    annotations.append(dict(xref="paper", yref="paper", x=px(cx), y=py(cy), text=lab, showarrow=False,
                            xanchor="center", yanchor="middle",
                            font=dict(family=NUM_FONT, size=38, color="white")))

fig.update_layout(
    width=W, height=H, autosize=False,
    margin=dict(l=0, r=0, t=0, b=0),
    paper_bgcolor="white", plot_bgcolor="rgba(0,0,0,0)",
    shapes=shapes, annotations=annotations,
    showlegend=True,
    legend=dict(orientation="h", x=px(1398), xanchor="right", y=py(29), yanchor="middle",
                font=dict(family=NUM_FONT, size=14, color="#1a1a1a"), bgcolor="rgba(0,0,0,0)",
                itemwidth=30, tracegroupgap=0, itemclick=False, itemdoubleclick=False),
    **layout_axes,
)

fig.write_html("out.html")
